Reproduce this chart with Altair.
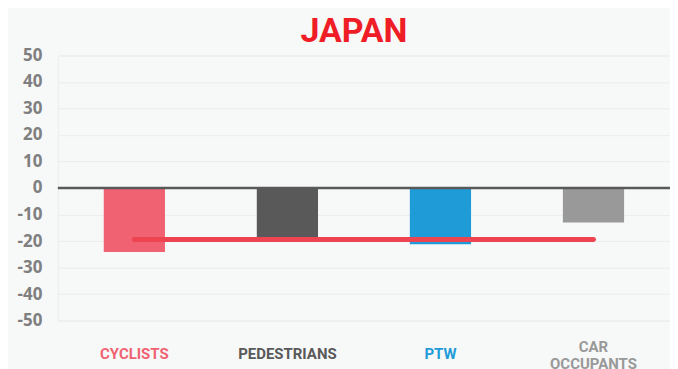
import altair as alt
import pandas as pd

categories = ["CYCLISTS", "PEDESTRIANS", "PTW", "CAR OCCUPANTS"]
values = [-24.1, -18.5, -21.2, -13.0]
bar_colors = ["#f06272", "#595959", "#1f9cd7", "#999999"]
average = [-19.4, -19.4, -19.4, -19.4]
y_ticks = [-50, -40, -30, -20, -10, 0, 10, 20, 30, 40, 50]
title_text = ["JAPAN"]

W, H = 614, 266

df = pd.DataFrame({"cat": categories, "val": values, "avg": average})

label_font = "Roboto, Open Sans, sans-serif"

x_scale = alt.Scale(domain=categories, paddingInner=0.6, paddingOuter=0.3)
y_scale = alt.Scale(domain=[-50, 50], nice=False)
c_scale = alt.Scale(domain=categories, range=bar_colors)

y_axis = alt.Axis(
    values=y_ticks,
    tickCount=11,
    domain=False,
    ticks=False,
    labelOverlap=False,
    labelExpr="toString(datum.value)",
    labelFont="Open Sans, DejaVu Sans, sans-serif",
    labelFontWeight="bold",
    labelFontSize=17,
    labelColor="#7f7f7f",
    labelPadding=16,
    gridColor="#ececec",
    gridWidth=1,
)

bars = alt.Chart(df).mark_bar().encode(
    x=alt.X("cat:N", scale=x_scale, axis=None, title=None),
    y=alt.Y("val:Q", scale=y_scale, title=None, axis=y_axis),
    color=alt.Color("cat:N", scale=c_scale, legend=None),
)

zero = alt.Chart(pd.DataFrame({"z": [0]})).mark_rule(color="#595959", strokeWidth=2.5).encode(
    y=alt.Y("z:Q", scale=y_scale, title=None, axis=y_axis)
)

avg_line = alt.Chart(df).mark_line(color="#ee4350", strokeWidth=5, strokeCap="round").encode(
    x=alt.X("cat:N", scale=x_scale, axis=None),
    y=alt.Y("avg:Q", scale=y_scale, title=None, axis=y_axis),
)

labels_single = (
    alt.Chart(df)
    .transform_filter("datum.cat != 'CAR OCCUPANTS'")
    .mark_text(font=label_font, fontWeight="bold", fontSize=15, baseline="middle")
    .encode(
        x=alt.X("cat:N", scale=x_scale, axis=None),
        y=alt.value(H + 34),
        text="cat:N",
        color=alt.Color("cat:N", scale=c_scale, legend=None),
    )
)

labels_multi = (
    alt.Chart(df)
    .transform_filter("datum.cat == 'CAR OCCUPANTS'")
    .mark_text(font=label_font, fontWeight="bold", fontSize=15, baseline="middle",
               lineBreak=" ", lineHeight=18, dy=-8)
    .encode(
        x=alt.X("cat:N", scale=x_scale, axis=None),
        y=alt.value(H + 34),
        text="cat:N",
        color=alt.Color("cat:N", scale=c_scale, legend=None),
    )
)

title = alt.Chart(pd.DataFrame({"t": title_text})).mark_text(
    font="Roboto, sans-serif", fontWeight="bold", fontSize=34, color="#ee1d26",
    baseline="alphabetic", align="center",
).encode(text="t:N", x=alt.value(297), y=alt.value(-13))

chart = (
    alt.layer(bars, zero, avg_line, labels_single, labels_multi, title)
    .properties(
        width=W,
        height=H,
        autosize=alt.AutoSizeParams(type="none"),
        padding={"left": 50, "top": 47, "right": 0, "bottom": 48},
        background="#f7f8f8",
    )
    .configure_view(fill="#f7f8f8", stroke="#ececec", strokeWidth=1)
)

chart.save("out.html", embed_options={"renderer": "svg", "actions": False})
